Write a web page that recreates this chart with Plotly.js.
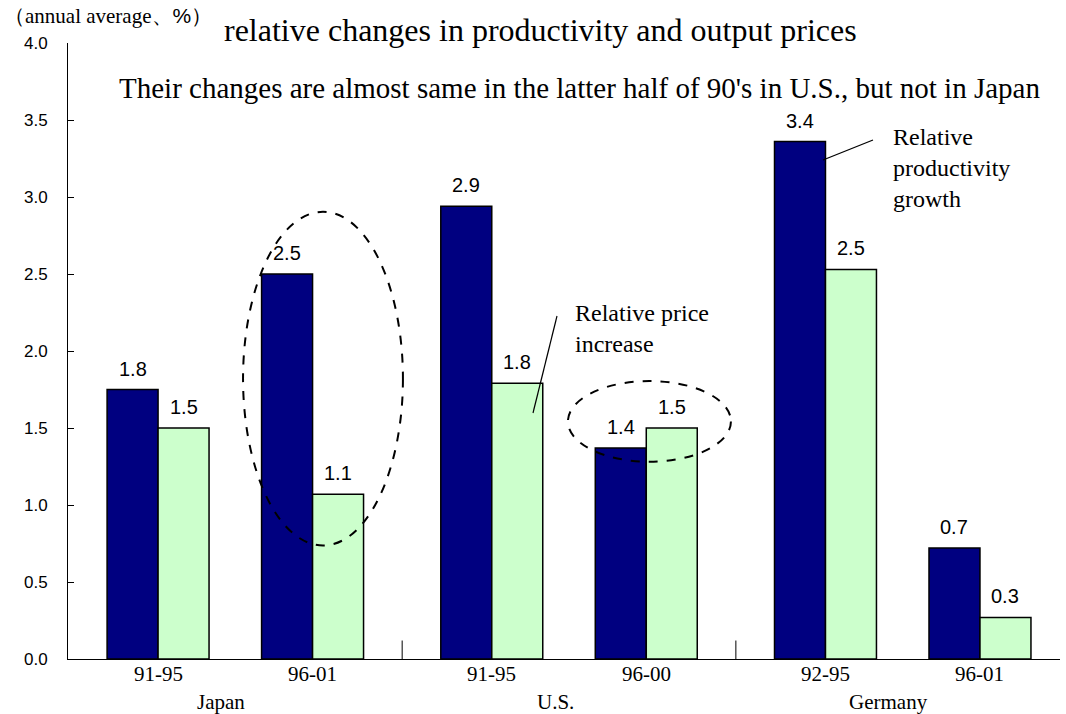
<!DOCTYPE html>
<html>
<head>
<meta charset="utf-8">
<script src="https://cdn.plot.ly/plotly-3.0.1.min.js"></script>
<style>html,body{margin:0;padding:0;background:#fff;}#chart{width:1066px;height:714px;}</style>
</head>
<body>
<div id="chart"></div>
<script>
// ---- data ----
const groups = ["Japan", "U.S.", "Germany"];
const periods = ["91-95", "96-01", "91-95", "96-00", "92-95", "96-01"];
const groupOf = [0, 0, 1, 1, 2, 2];
const productivity = [1.75, 2.5, 2.94, 1.37, 3.36, 0.72];
const prices = [1.5, 1.07, 1.79, 1.5, 2.53, 0.27];
const yTicks = [0, 0.5, 1, 1.5, 2, 2.5, 3, 3.5, 4];

// ---- layout helpers ----
const groupGap = 0.16;
const bargap = 0.34;
const xpos = periods.map((p, i) => i + groupOf[i] * groupGap);
const half = (1 - bargap) / 4; // offset of each bar centre from category centre
const dividers = [ (xpos[1] + xpos[2]) / 2, (xpos[3] + xpos[4]) / 2 ];
const groupCenters = groups.map((g, k) => (xpos[2 * k] + xpos[2 * k + 1]) / 2);

const serif = "Liberation Serif, Times New Roman, serif";
const sans = "Liberation Sans, Arial, sans-serif";

const traces = [
  {
    type: "bar", x: xpos, y: productivity, name: "Relative productivity growth",
    marker: {color: "#000080", line: {color: "#000", width: 1.5}}, hoverinfo: "none"
  },
  {
    type: "bar", x: xpos, y: prices, name: "Relative price increase",
    marker: {color: "#CCFFCC", line: {color: "#000", width: 1.5}}, hoverinfo: "none"
  }
];

const L = 68, T = 43, W = 992, H = 616;
const px = x => (x - L) / W;
const py = y => (T + H - y) / H;

const shapes = [
  ...dividers.map(d => ({type: "line", xref: "x", yref: "y", x0: d, x1: d, y0: 0, y1: 0.12,
    line: {color: "#000", width: 1}})),
  {type: "circle", xref: "x", yref: "y", x0: 0.55, x1: 1.585, y0: 0.737, y1: 2.904,
    line: {color: "#000", width: 2, dash: "dash"}},
  {type: "circle", xref: "x", yref: "y", x0: 2.653, x1: 3.708, y0: 1.281, y1: 1.805,
    line: {color: "#000", width: 2, dash: "dash"}},
  {type: "line", xref: "paper", yref: "paper", x0: px(823), y0: py(160), x1: px(873), y1: py(140),
    line: {color: "#000", width: 1.2}},
  {type: "line", xref: "paper", yref: "paper", x0: px(557), y0: py(316), x1: px(533), y1: py(413),
    line: {color: "#000", width: 1.2}}
];

const valueLabels = [];
productivity.forEach((v, i) => valueLabels.push({x: xpos[i] - half, y: v, xref: "x", yref: "y",
  text: v.toFixed(1), showarrow: false, yanchor: "bottom", yshift: 8,
  font: {family: sans, size: 20, color: "#000"}}));
prices.forEach((v, i) => valueLabels.push({x: xpos[i] + half, y: v, xref: "x", yref: "y",
  text: v.toFixed(1), showarrow: false, yanchor: "bottom", yshift: 8,
  font: {family: sans, size: 20, color: "#000"}}));

const annotations = [
  ...valueLabels,
  ...periods.map((p, i) => ({x: xpos[i], xref: "x", y: py(674), yref: "paper", yanchor: "middle",
    text: p, showarrow: false, font: {family: serif, size: 21, color: "#000"}})),
  ...groups.map((g, k) => ({x: groupCenters[k], xref: "x", xshift: -14, y: py(702), yref: "paper", yanchor: "middle",
    text: g, showarrow: false, font: {family: serif, size: 21, color: "#000"}})),
  {x: px(2), xref: "paper", xanchor: "left", y: py(16), yref: "paper", yanchor: "middle",
    text: "（annual average、<span style=\"font-family:Liberation Sans\">%</span>）", showarrow: false,
    font: {family: serif, size: 21, color: "#000"}},
  {x: px(222), xref: "paper", xanchor: "left", y: py(30), yref: "paper", yanchor: "middle",
    text: "relative changes in productivity and output prices", showarrow: false,
    font: {family: serif, size: 32, color: "#000"}},
  {x: px(117), xref: "paper", xanchor: "left", y: py(88), yref: "paper", yanchor: "middle",
    text: "Their changes are almost same in the latter half of 90's in U.S., but not in Japan", showarrow: false,
    font: {family: serif, size: 29, color: "#000"}},
  {x: px(891), xref: "paper", xanchor: "left", y: py(168), yref: "paper", yanchor: "middle",
    text: "Relative<br>productivity<br>growth", align: "left", showarrow: false,
    font: {family: serif, size: 24, color: "#000"}},
  {x: px(573), xref: "paper", xanchor: "left", y: py(328), yref: "paper", yanchor: "middle",
    text: "Relative price<br>increase", align: "left", showarrow: false,
    font: {family: serif, size: 24, color: "#000"}}
];

const layout = {
  width: 1066, height: 714,
  margin: {l: L, r: 1066 - L - W, t: T, b: 714 - T - H},
  paper_bgcolor: "#fff", plot_bgcolor: "#fff",
  showlegend: false,
  barmode: "group", bargap: bargap, bargroupgap: 0,
  xaxis: {
    range: [-0.583, 5.838], tickvals: xpos, showticklabels: false, ticks: "",
    showgrid: false, zeroline: false, showline: true, linecolor: "#000", linewidth: 1,
    fixedrange: true
  },
  yaxis: {
    range: [0, 4], tickvals: yTicks, ticktext: yTicks.map(v => v.toFixed(1)),
    ticks: "inside", ticklen: 6, tickcolor: "#000", showgrid: false, zeroline: false,
    showline: true, linecolor: "#000", linewidth: 1,
    tickfont: {family: sans, size: 17, color: "#000"}, ticklabelstandoff: 16, fixedrange: true
  },
  shapes: shapes,
  annotations: annotations
};

Plotly.newPlot("chart", traces, layout, {staticPlot: true});
</script>
</body>
</html>
